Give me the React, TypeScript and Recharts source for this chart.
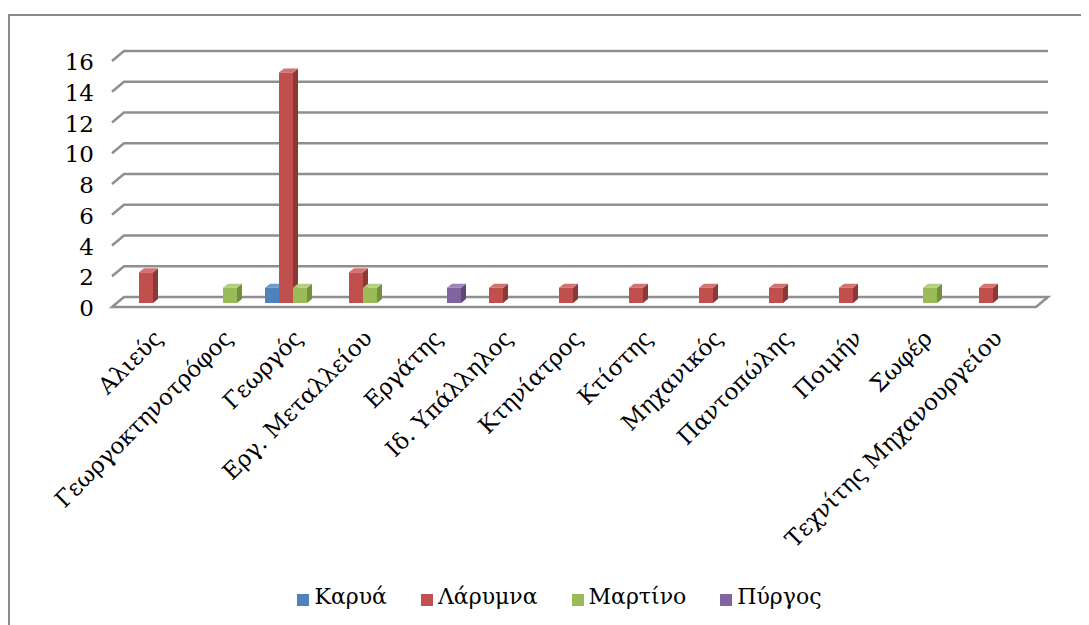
import React from 'react';
import { BarChart, Bar, XAxis, YAxis, CartesianGrid, Legend } from 'recharts';

const categories = [
  'Αλιεύς',
  'Γεωργοκτηνοτρόφος',
  'Γεωργός',
  'Εργ. Μεταλλείου',
  'Εργάτης',
  'Ιδ. Υπάλληλος',
  'Κτηνίατρος',
  'Κτίστης',
  'Μηχανικός',
  'Παντοπώλης',
  'Ποιμήν',
  'Σωφέρ',
  'Τεχνίτης Μηχανουργείου',
];

const karya = [0, 0, 1, 0, 0, 0, 0, 0, 0, 0, 0, 0, 0];
const larymna = [2, 0, 15, 2, 0, 1, 1, 1, 1, 1, 1, 0, 1];
const martino = [0, 1, 1, 1, 0, 0, 0, 0, 0, 0, 0, 1, 0];
const pyrgos = [0, 0, 0, 0, 1, 0, 0, 0, 0, 0, 0, 0, 0];

const yTicks = [0, 2, 4, 6, 8, 10, 12, 14, 16];

const series = [
  { key: 'karya', name: 'Καρυά', values: karya, front: '#4F81BD', side: '#3A6391', top: '#7199CC' },
  { key: 'larymna', name: 'Λάρυμνα', values: larymna, front: '#C0504D', side: '#8E3836', top: '#D27370' },
  { key: 'martino', name: 'Μαρτίνο', values: martino, front: '#9BBB59', side: '#72903C', top: '#B4CF7D' },
  { key: 'pyrgos', name: 'Πύργος', values: pyrgos, front: '#8064A2', side: '#5D4879', top: '#9C85BA' },
];

const data = categories.map((cat, i) => {
  const row: any = { cat };
  series.forEach((s) => {
    row[s.key] = s.values[i] > 0 ? s.values[i] : null;
  });
  return row;
});

const FONT = '"DejaVu Serif", serif';
const DX = 5;
const DY = 4;

const make3D = (side: string, top: string) => (props: any) => {
  const { x, y, width, height, fill } = props;
  if (!height || height <= 0) return null;
  return (
    <g>
      <rect x={x} y={y} width={width} height={height} fill={fill} />
      <polygon
        points={`${x + width},${y} ${x + width + DX},${y - DY} ${x + width + DX},${y + height - DY} ${x + width},${y + height}`}
        fill={side}
      />
      <polygon
        points={`${x},${y} ${x + DX},${y - DY} ${x + width + DX},${y - DY} ${x + width},${y}`}
        fill={top}
      />
    </g>
  );
};

// horizontal grid lines drawn as the back wall of a 3D chart, with a floor at 0
const gridLine = (props: any) => {
  const { x1, y1, x2, key } = props;
  const bottom = props.y != null && props.height != null ? props.y + props.height : 295;
  const isFloor = Math.abs(y1 - bottom) < 1;
  if (isFloor) {
    return (
      <polygon
        key={key}
        points={`${x1 - 6},${y1 + 4} ${x1 + 6},${y1 - 6} ${x2 + 20},${y1 - 6} ${x2 + 8},${y1 + 4}`}
        fill="none"
        stroke="#8f8f8f"
        strokeWidth={2.5}
      />
    );
  }
  return (
    <polyline
      key={key}
      points={`${x1 - 6},${y1 + 4} ${x1 + 6},${y1 - 6} ${x2 + 20},${y1 - 6}`}
      fill="none"
      stroke="#8f8f8f"
      strokeWidth={2.5}
    />
  );
};

const YTick = (props: any) => {
  const { y, payload } = props;
  return (
    <text x={86} y={y + 5} textAnchor="end" dominantBaseline="central" fontFamily={FONT} fontSize={23} fill="#000">
      {payload.value}
    </text>
  );
};

const XTick = (props: any) => {
  const { x, payload } = props;
  const ax = x + 5;
  const ay = 326;
  return (
    <text
      x={ax}
      y={ay}
      textAnchor="end"
      dominantBaseline="central"
      transform={`rotate(-45, ${ax}, ${ay})`}
      fontFamily={FONT}
      fontSize={23}
      fill="#000"
    >
      {payload.value}
    </text>
  );
};

const App: React.FC = () => {
  return (
    <div style={{ width: 1081, height: 617, overflow: 'hidden', position: 'relative' }}>
      <div
        style={{
          position: 'absolute',
          top: 6,
          left: 0,
          width: 1200,
          height: 800,
          border: '2px solid #8a8a8a',
          boxSizing: 'border-box',
        }}
      />
      <div style={{ position: 'absolute', top: 0, left: 0 }}>
        <BarChart
          width={1081}
          height={617}
          data={data}
          margin={{ top: 49, right: 61, bottom: 22, left: 0 }}
          barCategoryGap="10%"
          barGap={0}
        >
          <CartesianGrid vertical={false} horizontal={gridLine} />
          <XAxis dataKey="cat" axisLine={false} tickLine={false} interval={0} height={300} tick={<XTick />} />
          <YAxis
            domain={[0, 16]}
            ticks={yTicks}
            axisLine={false}
            tickLine={false}
            width={110}
            tick={<YTick />}
          />
          <Legend
            verticalAlign="middle"
            align="center"
            iconType="square"
            iconSize={12}
            wrapperStyle={{ top: 576, left: 56, width: 1025 }}
            formatter={(value: string) => (
              <span style={{ color: '#000', fontFamily: FONT, fontSize: 22, marginLeft: 1, marginRight: 24 }}>
                {value}
              </span>
            )}
          />
          {series.map((s) => (
            <Bar
              key={s.key}
              dataKey={s.key}
              name={s.name}
              fill={s.front}
              isAnimationActive={false}
              shape={make3D(s.side, s.top)}
            />
          ))}
        </BarChart>
      </div>
    </div>
  );
};

export default App;
